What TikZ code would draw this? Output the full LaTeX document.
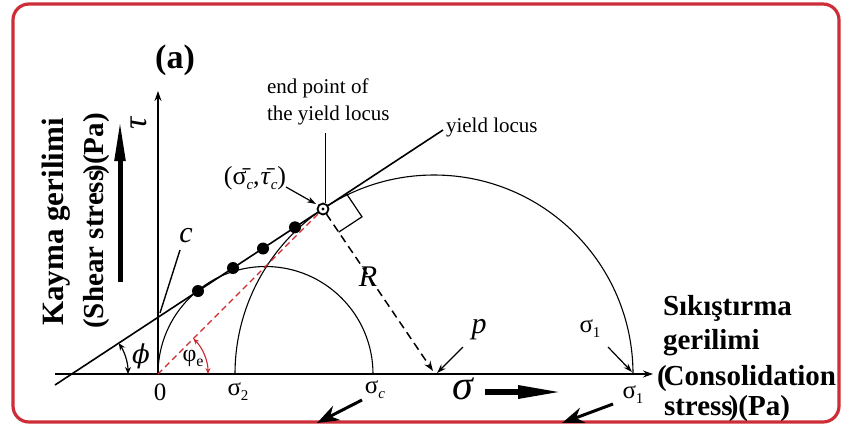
\documentclass[tikz,border=0pt]{standalone}
\usepackage{fontspec}
\setmainfont{Liberation Serif}
\newfontfamily\dvserif{DejaVu Serif}
\usetikzlibrary{arrows.meta}
\definecolor{bordred}{RGB}{205,45,55}
\definecolor{dashred}{RGB}{205,40,45}
\newcommand{\setfs}[1]{\fontsize{#1pt}{#1pt}\selectfont}
\newcommand{\lowidx}[2]{\raisebox{-#1pt}{\setfs{15}#2}}
\begin{document}
\begin{tikzpicture}[x=1pt,y=-1pt,
  axisline/.style={line width=1.4pt,-{Stealth[length=10pt,width=7pt]}},
  thinarrow/.style={line width=1.2pt,-{Stealth[length=9pt,width=6pt]}},
  fatarrow/.style={line width=3pt,-{Stealth[length=22pt,width=16pt]}},
  curve/.style={line width=1.1pt},
  lbl/.style={inner sep=0pt,outer sep=0pt},
  bigbold/.style={lbl,font=\setfs{29}\bfseries},
  dotmark/.style={circle,fill=black,inner sep=0pt,minimum size=12pt}]
\useasboundingbox (0,0) rectangle (842,432);
% border
\draw[bordred,line width=3.2pt,rounded corners=16pt] (13,4) rectangle (839,422);
% coordinates
\coordinate (O) at (158,374);
\coordinate (axL) at (55,374);
\coordinate (axR) at (653,374);
\coordinate (tauTop) at (158,91);
\coordinate (P) at (323,209);
\coordinate (Ctr) at (434,374);
\coordinate (YL0) at (55,385);
\coordinate (YL1) at (443,130);
% axes
\draw[axisline] (axL) -- (axR);
\draw[axisline] (O) -- (tauTop);
% Mohr circles
\draw[curve] (235,374) arc[start angle=180,end angle=0,radius=199pt];
\draw[curve] (O) arc[start angle=180,end angle=0,radius=107.5pt];
% yield locus
\draw[line width=1.6pt] (YL0) -- (YL1);
\node[dotmark] (d1) at (198,291) {};
\node[dotmark] (d2) at (233,268) {};
\node[dotmark] (d3) at (263,248.5) {};
\node[dotmark] (d4) at (295,227.3) {};
% red dashed line and angle
\draw[dashred,line width=1.3pt,dash pattern=on 6pt off 4pt] (O) -- (P);
\draw[dashred,line width=1.1pt,{Stealth[length=6pt,width=5pt]}-{Stealth[length=6pt,width=5pt]}] (208,374) arc[start angle=0,end angle=45,radius=50pt];
\node[lbl,font=\setfs{24}] (phie) at (193,358) {φ\raisebox{-5pt}{\setfs{16}e}};
% phi angle
\draw[line width=1.2pt,{Stealth[length=7pt,width=6pt]}-{Stealth[length=7pt,width=6pt]}] (128,374) arc[start angle=0,end angle=33.3,radius=56pt];
\node[lbl,font=\setfs{26}\dvserif\itshape] (phi) at (141,356) {ϕ};
% c pointer
\coordinate (cA) at (160,313);
\coordinate (cB) at (180,250);
\draw[line width=1.4pt] (cA) -- (cB);
\node[lbl,font=\setfs{30}\itshape] (clab) at (186,236) {c};
% right angle marker
\draw[line width=1.2pt] (346.4,193.6) -- (362,216.8) -- (338.6,232.2);
% end point marker
\node[circle,draw,line width=1.8pt,fill=white,inner sep=0pt,minimum size=11pt] (EP) at (P) {};
\fill (P) circle[radius=1.6pt];
% dashed radius R
\coordinate (Rend) at (433,371);
\draw[line width=1.5pt,dash pattern=on 8pt off 5pt,shorten <=6pt,-{Stealth[length=10pt,width=7pt]}] (EP.center) -- (Rend);
\node[lbl,font=\setfs{30}\itshape] (Rlab) at (368,277) {R};
% end point label
\node[lbl,anchor=west,font=\setfs{21}] (ep1) at (267,88) {end point of};
\node[lbl,anchor=west,font=\setfs{21}] (ep2) at (267,115) {the yield locus};
\coordinate (epL) at (325,133);
\draw[line width=0.6pt] (epL) -- (325,203);
% sigma_c tau_c label
\node[lbl,font=\setfs{26}] (sctc) at (255,178) {(\={σ}\lowidx{5}{\textit{c}},\kern1pt\={\textit{τ}}\lowidx{5}{\textit{c}})};
\coordinate (scA) at (286,187);
\draw[thinarrow] (scA) -- (316,204);
% yield locus label
\node[lbl,anchor=west,font=\setfs{21}] (yl) at (446,127) {yield locus};
% p label
\node[lbl,font=\setfs{30}\itshape] (plab) at (479,330) {p};
\coordinate (pA) at (463,347);
\draw[thinarrow] (pA) -- (437,373);
% sigma1 upper label
\node[lbl,font=\setfs{25}] (s1u) at (590,329) {σ\lowidx{5}{1}};
\coordinate (s1A) at (608,347);
\draw[thinarrow] (s1A) -- (632,372);
% axis labels
\node[lbl,font=\setfs{34}\itshape,rotate=90] (tau) at (139,123) {τ};
\node[lbl,font=\setfs{25}] (zero) at (160,392) {0};
\node[lbl,font=\setfs{25}] (s2) at (238,392) {σ\lowidx{5}{2}};
\node[lbl,font=\setfs{25}] (sc) at (375,390) {σ\lowidx{5}{\textit{c}}};
\node[lbl,font=\setfs{42}\itshape] (sig) at (463,389) {σ};
\node[lbl,font=\setfs{25}] (s1b) at (633,395) {σ\lowidx{5}{1}};
% fat arrows
\coordinate (fa1) at (362,400);
\coordinate (fa1e) at (317,423);
\draw[fatarrow] (fa1) -- (fa1e);
\coordinate (fa2) at (613,404);
\coordinate (fa2e) at (562,423);
\draw[fatarrow] (fa2) -- (fa2e);
\coordinate (hA) at (485,392);
\draw[line width=6pt,-{Triangle[length=46pt,width=12pt]}] (hA) -- (564,392);
\coordinate (vA) at (120,282);
\draw[line width=5pt,-{Triangle[length=42pt,width=10pt]}] (vA) -- (120,119);
% titles
\node[lbl,font=\setfs{34}\bfseries] (a) at (175,60) {(a)};
\node[bigbold,rotate=90,font=\setfs{31}\bfseries] (kay) at (56,222) {Kayma gerilimi};
\node[bigbold,rotate=90] (shear) at (97,221) {(Shear stress\kern-4pt)(Pa)};
\node[bigbold,anchor=base west] (sk1) at (663,315) {Sıkıştırma};
\node[bigbold,anchor=base west] (sk2) at (663,349) {gerilimi};
\node[bigbold,anchor=base west] (sk3) at (657,385) {(\kern-3ptConsolidation};
\node[bigbold,anchor=base west] (sk4) at (664,415) {stress\kern-4pt)(Pa)};
\end{tikzpicture}
\end{document}
